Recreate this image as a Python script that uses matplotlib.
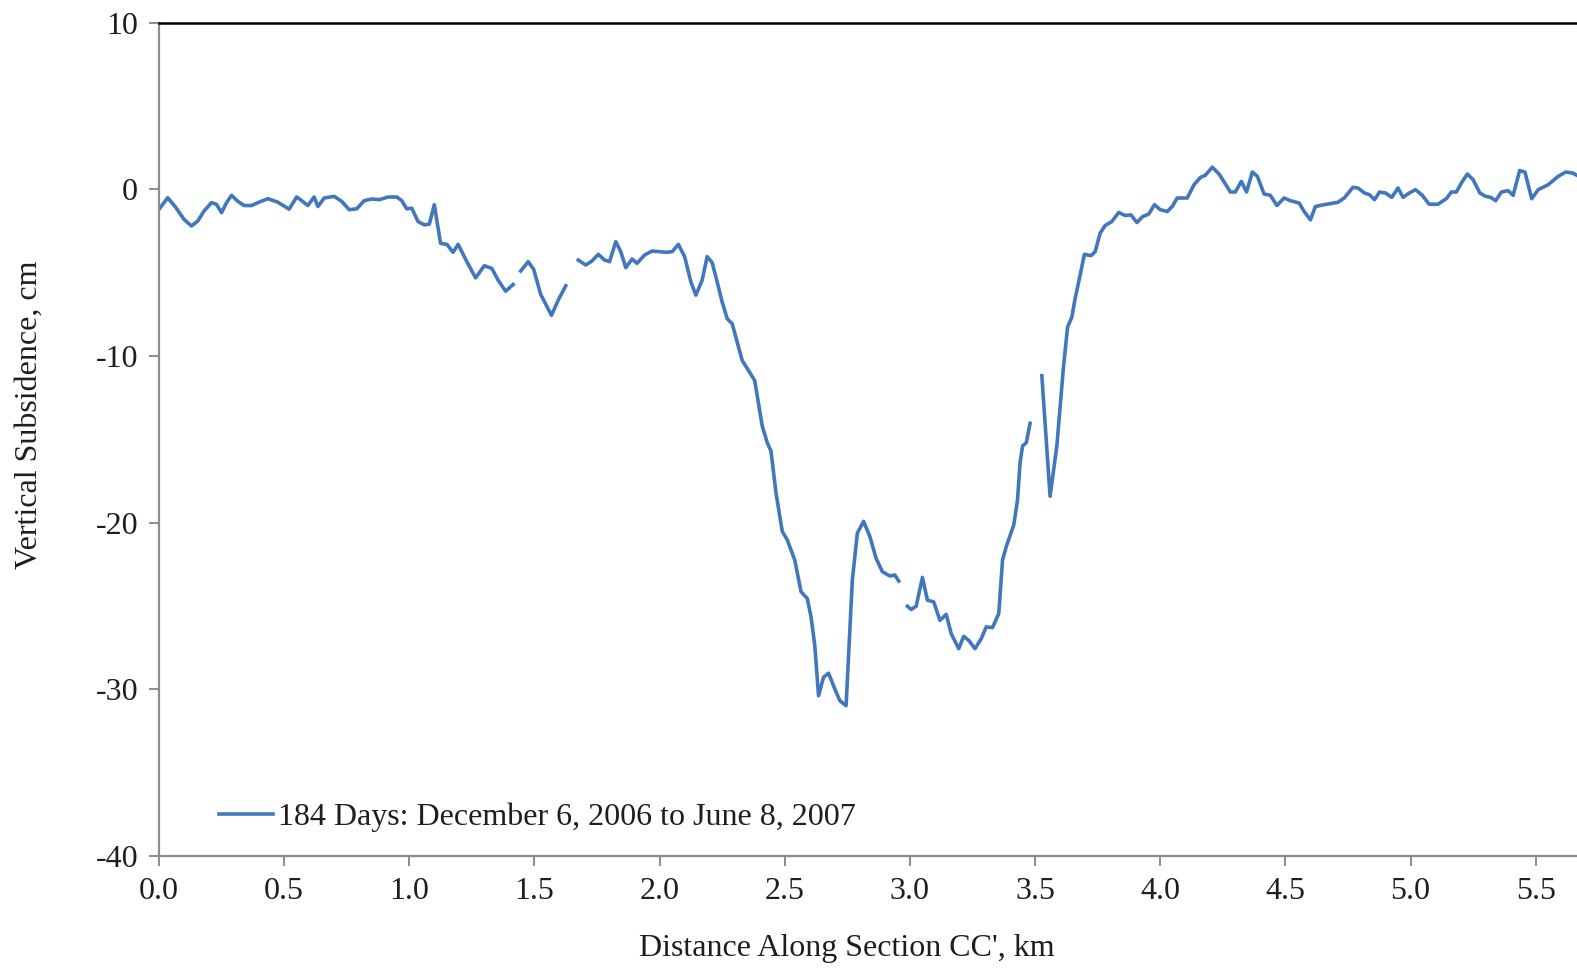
import matplotlib
matplotlib.use("Agg")
import matplotlib.pyplot as plt

# Vertical subsidence profile along section CC' (km, cm).
# Gaps in the InSAR coverage split the profile into separate runs.
seg1_km = [0.0, 0.035, 0.068, 0.10, 0.13, 0.155, 0.18, 0.21, 0.23, 0.25, 0.27, 0.29,
           0.315, 0.34, 0.37, 0.40, 0.435, 0.475, 0.52, 0.55, 0.57, 0.595, 0.62, 0.635,
           0.66, 0.70, 0.73, 0.76, 0.79, 0.82, 0.85, 0.88, 0.915, 0.95, 0.97, 0.99,
           1.01, 1.035, 1.06, 1.08, 1.10, 1.125, 1.15, 1.175, 1.195, 1.23, 1.265,
           1.30, 1.33, 1.355, 1.385, 1.415]
seg1_cm = [-1.2, -0.5, -1.1, -1.8, -2.2, -1.9, -1.3, -0.8, -0.9, -1.4, -0.8, -0.36,
           -0.72, -0.97, -0.97, -0.77, -0.56, -0.77, -1.19, -0.46, -0.68, -0.97, -0.46, -1.03,
           -0.52, -0.42, -0.72, -1.22, -1.17, -0.68, -0.58, -0.62, -0.46, -0.46, -0.68, -1.17,
           -1.13, -1.93, -2.13, -2.09, -0.92, -3.24, -3.3, -3.78, -3.3, -4.34, -5.31,
           -4.58, -4.75, -5.45, -6.11, -5.71]

seg2_km = [1.445, 1.475, 1.497, 1.525, 1.568, 1.595, 1.625]
seg2_cm = [-4.9, -4.34, -4.8, -6.3, -7.56, -6.65, -5.79]

seg3_km = [1.675, 1.705, 1.73, 1.755, 1.78, 1.80, 1.825, 1.845, 1.865, 1.89, 1.91, 1.94,
           1.97, 2.00, 2.025, 2.05, 2.075, 2.10, 2.125, 2.145, 2.17, 2.19, 2.21, 2.23,
           2.25, 2.27, 2.29, 2.33, 2.36, 2.38, 2.41, 2.43, 2.445, 2.465, 2.49, 2.51,
           2.54, 2.565, 2.59, 2.605, 2.62, 2.635, 2.655, 2.675, 2.70, 2.72, 2.745,
           2.77, 2.79, 2.815, 2.84, 2.865, 2.89, 2.92, 2.94, 2.955]
seg3_cm = [-4.24, -4.54, -4.30, -3.90, -4.24, -4.34, -3.14, -3.74, -4.70, -4.18, -4.44, -3.94,
           -3.70, -3.74, -3.78, -3.74, -3.30, -4.04, -5.55, -6.35, -5.45, -4.04, -4.4, -5.55,
           -6.76, -7.76, -8.06, -10.27, -10.98, -11.48, -14.19, -15.20, -15.70, -18.21, -20.52, -21.03,
           -22.24, -24.14, -24.55, -25.65, -27.36, -30.38, -29.27, -29.03, -29.98, -30.68, -30.98,
           -23.44, -20.63, -19.92, -20.83, -22.14, -22.94, -23.20, -23.14, -23.5]

seg4_km = [2.99, 3.005, 3.025, 3.05, 3.07, 3.095, 3.12, 3.145, 3.165, 3.195, 3.215, 3.235,
           3.26, 3.285, 3.305, 3.33, 3.355, 3.37, 3.385, 3.415, 3.43, 3.44, 3.45, 3.465, 3.48]
seg4_cm = [-25.01, -25.21, -25.01, -23.28, -24.65, -24.75, -25.86, -25.50, -26.66, -27.56,
           -26.82, -27.06, -27.56, -26.96, -26.25, -26.30, -25.45, -22.24, -21.43, -20.13,
           -18.62, -16.41, -15.40, -15.20, -14.04]

seg5_km = [3.527, 3.56, 3.587, 3.614, 3.63, 3.647, 3.66, 3.68, 3.697, 3.723, 3.74, 3.76,
           3.78, 3.807, 3.834, 3.86, 3.883, 3.907, 3.93, 3.954, 3.977, 4.00, 4.028, 4.048,
           4.068, 4.108, 4.135, 4.161, 4.18, 4.208, 4.235, 4.262, 4.28, 4.30, 4.324, 4.345,
           4.368, 4.388, 4.415, 4.44, 4.466, 4.495, 4.52, 4.555, 4.575, 4.60, 4.62, 4.655,
           4.709, 4.735, 4.77, 4.79, 4.816, 4.836, 4.856, 4.876, 4.90, 4.925, 4.95, 4.97,
           4.995, 5.02, 5.047, 5.074, 5.11, 5.143, 5.163, 5.183, 5.203, 5.227, 5.25, 5.277,
           5.30, 5.32, 5.34, 5.363, 5.39, 5.41, 5.436, 5.457, 5.484, 5.51, 5.55, 5.59,
           5.62, 5.647, 5.68]
seg5_cm = [-11.18, -18.41, -15.40, -10.57, -8.26, -7.66, -6.55, -5.15, -3.90, -3.98, -3.74, -2.63,
           -2.17, -1.93, -1.39, -1.57, -1.53, -1.99, -1.63, -1.49, -0.92, -1.22, -1.33, -1.03,
           -0.52, -0.52, 0.28, 0.72, 0.84, 1.33, 0.92, 0.28, -0.16, -0.16, 0.48, -0.16,
           1.04, 0.78, -0.28, -0.36, -0.97, -0.52, -0.68, -0.82, -1.33, -1.83, -1.03, -0.92,
           -0.78, -0.52, 0.12, 0.08, -0.22, -0.32, -0.62, -0.16, -0.22, -0.48, 0.08, -0.48,
           -0.22, -0.02, -0.36, -0.89, -0.89, -0.56, -0.16, -0.16, 0.38, 0.92, 0.58, -0.22,
           -0.42, -0.48, -0.68, -0.16, -0.08, -0.36, 1.13, 1.04, -0.56, -0.02, 0.28, 0.78,
           1.04, 0.98, 0.72]

segments = [(seg1_km, seg1_cm), (seg2_km, seg2_cm), (seg3_km, seg3_cm),
            (seg4_km, seg4_cm), (seg5_km, seg5_cm)]
series_label = "184 Days: December 6, 2006 to June 8, 2007"
x_ticks = [0.0, 0.5, 1.0, 1.5, 2.0, 2.5, 3.0, 3.5, 4.0, 4.5, 5.0, 5.5]
y_ticks = [10, 0, -10, -20, -30, -40]

LINE = "#4277bd"
AXIS_GREY = "#8c8c8c"
TEXT = "#1e1e1e"
FS = 23

plt.rcParams["font.family"] = ["Liberation Serif", "DejaVu Serif"]

fig = plt.figure(figsize=(15.77, 9.69), dpi=100)
ax = fig.add_axes([0.1008, 0.1166, 0.8992, 0.86])

for i, (xs, ys) in enumerate(segments):
    ax.plot(xs, ys, color=LINE, lw=2.6, solid_joinstyle="round",
            label=series_label if i == 0 else None)

ax.set_xlim(0.0, 5.665)
ax.set_ylim(-40, 10)
ax.set_xticks(x_ticks)
ax.set_xticklabels([f"{t:.1f}" for t in x_ticks])
ax.set_yticks(y_ticks)
ax.set_yticklabels([str(t) for t in y_ticks])

ax.spines["right"].set_visible(False)
ax.spines["top"].set_color("black")
ax.spines["top"].set_linewidth(1.8)
for side in ("left", "bottom"):
    ax.spines[side].set_color(AXIS_GREY)
    ax.spines[side].set_linewidth(1.6)

ax.tick_params(axis="both", direction="out", length=7, width=1.4,
               color=AXIS_GREY, labelsize=FS, labelcolor=TEXT)
ax.tick_params(axis="x", pad=8)
ax.tick_params(axis="y", pad=8)

ax.set_xlabel("Distance Along Section CC', km", fontsize=FS, color=TEXT)
ax.set_ylabel("Vertical Subsidence, cm", fontsize=FS, color=TEXT)
ax.xaxis.set_label_coords(0.485, -0.094)
ax.yaxis.set_label_coords(-0.081, 0.53)

ax.legend(loc="center left", bbox_to_anchor=(0.042, 0.046), frameon=False,
          fontsize=FS, handlelength=1.7, handletextpad=0.15, borderpad=0,
          borderaxespad=0, labelcolor=TEXT)

fig.savefig("out.png", dpi=100, facecolor="white")
